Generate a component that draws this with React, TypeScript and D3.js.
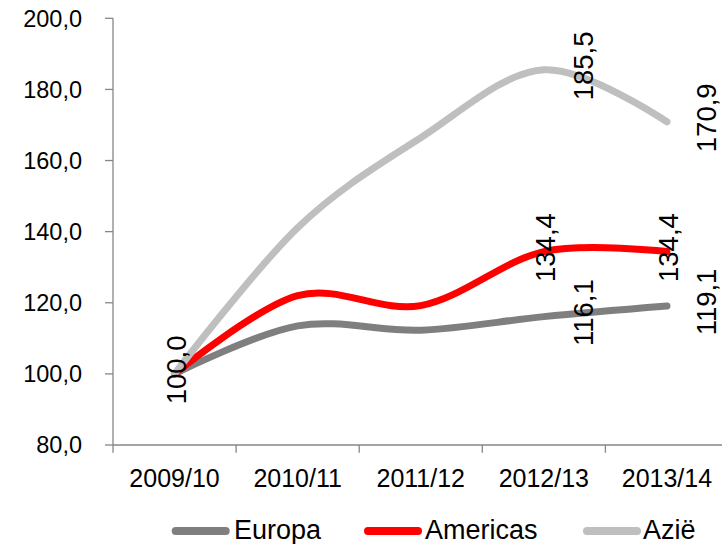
import React from "react";
import * as d3 from "d3";

const categories = ["2009/10", "2010/11", "2011/12", "2012/13", "2013/14"];
const europa = [100.0, 113.5, 112.3, 116.1, 119.1];
const americas = [100.0, 122.0, 119.2, 134.4, 134.4];
const azie = [100.0, 141.1, 166.4, 185.5, 170.9];
const yTicks = [80, 100, 120, 140, 160, 180, 200];
const europaLabelIdx = [3, 4];
const americasLabelIdx = [0, 3, 4];
const azieLabelIdx = [3, 4];

const series = [
  { name: "Europa", values: europa, labels: europaLabelIdx, color: "#7F7F7F", pos: "right" },
  { name: "Americas", values: americas, labels: americasLabelIdx, color: "#FF0000", pos: "center" },
  { name: "Azië", values: azie, labels: azieLabelIdx, color: "#BFBFBF", pos: "right" },
];

const W = 722;
const H = 544;
const FONT = "'Liberation Sans', Arial, sans-serif";

const fmt = (v: number) => d3.format(".1f")(v).replace(".", ",");

export default function App() {
  const x = d3.scaleBand<string>().domain(categories).range([113, 728.5]);
  const y = d3.scaleLinear().domain([80, 200]).range([445, 18.3]);
  const cx = (i: number) => (x(categories[i]) as number) + x.bandwidth() / 2;

  const line = d3
    .line<number>()
    .x((_, i) => cx(i))
    .y((d) => y(d))
    .curve(d3.curveCardinal.tension(0));

  const legendItems = [
    { lx: 171.7, tx: 234 },
    { lx: 364, tx: 425 },
    { lx: 583, tx: 643 },
  ];

  const boundaries = categories.map((c) => x(c) as number);

  return (
    <div style={{ position: "absolute", left: 0, top: 0 }}>
      <svg width={W} height={H} style={{ display: "block", background: "#fff" }}>
        <rect x={0} y={0} width={W} height={H} fill="#fff" />
        {/* Y axis */}
        <line x1={113} x2={113} y1={y(200)} y2={y(80)} stroke="#868686" strokeWidth={1.3} />
        {yTicks.map((t) => (
          <g key={t}>
            <line x1={105} x2={113} y1={y(t)} y2={y(t)} stroke="#868686" strokeWidth={1.3} />
            <text
              x={82}
              y={y(t)}
              dy="0.36em"
              textAnchor="end"
              fontFamily={FONT}
              fontSize={23.5}
              fill="#000"
            >
              {fmt(t)}
            </text>
          </g>
        ))}
        {/* X axis */}
        <line x1={113} x2={728.5} y1={y(80)} y2={y(80)} stroke="#868686" strokeWidth={1.3} />
        {boundaries.map((b, i) => (
          <line key={i} x1={b} x2={b} y1={y(80)} y2={y(80) + 7.7} stroke="#868686" strokeWidth={1.3} />
        ))}
        {categories.map((c, i) => (
          <text
            key={c}
            x={cx(i)}
            y={486.7}
            textAnchor="middle"
            fontFamily={FONT}
            fontSize={25}
            fill="#000"
          >
            {c}
          </text>
        ))}
        {/* Lines */}
        {series.map((s) => (
          <path
            key={s.name}
            d={line(s.values) as string}
            fill="none"
            stroke={s.color}
            strokeWidth={7}
            strokeLinecap="round"
            strokeLinejoin="round"
          />
        ))}
        {/* Data labels */}
        {series.map((s) =>
          s.labels.map((i) => {
            const px = cx(i) + (s.pos === "right" ? 39 : 1.5);
            const py = y(s.values[i]);
            return (
              <text
                key={s.name + i}
                transform={`translate(${px},${py}) rotate(-90)`}
                x={4}
                dy="0.36em"
                textAnchor="middle"
                fontFamily={FONT}
                fontSize={27.5}
                fill="#000"
              >
                {fmt(s.values[i])}
              </text>
            );
          })
        )}
        {/* Legend */}
        {series.map((s, k) => (
          <g key={s.name}>
            <line
              x1={legendItems[k].lx + 4}
              x2={legendItems[k].lx + 54}
              y1={531}
              y2={531}
              stroke={s.color}
              strokeWidth={8}
              strokeLinecap="round"
            />
            <text x={legendItems[k].tx} y={539.3} fontFamily={FONT} fontSize={27} fill="#000">
              {s.name}
            </text>
          </g>
        ))}
      </svg>
    </div>
  );
}
